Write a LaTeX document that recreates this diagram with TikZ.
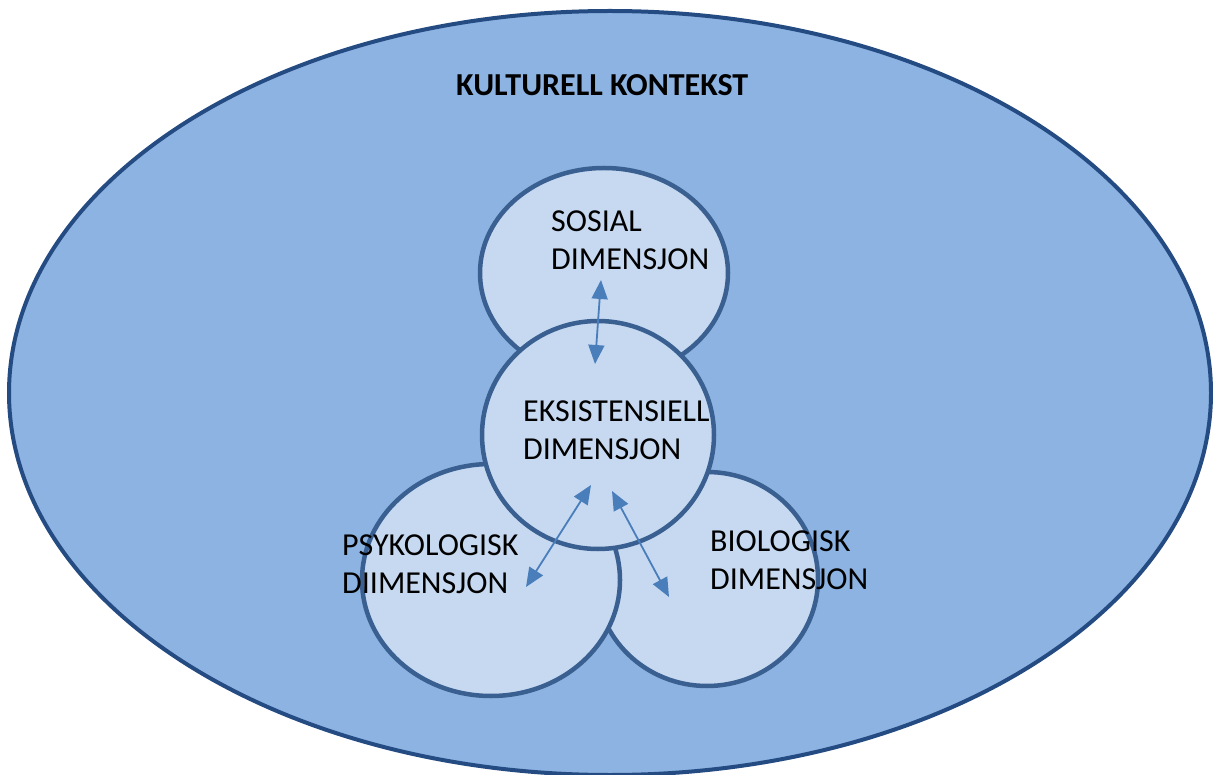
\documentclass[tikz,border=0pt]{standalone}
\usepackage{fontspec}
\setmainfont{Carlito}
\usetikzlibrary{arrows.meta}
\definecolor{outerfill}{HTML}{8DB3E2}
\definecolor{outerline}{HTML}{244B82}
\definecolor{innerfill}{HTML}{C6D9F1}
\definecolor{innerline}{HTML}{3A5F91}
\definecolor{arrowcol}{HTML}{4A7EBB}
\tikzset{
  outerell/.style={fill=outerfill, draw=outerline, line width=4pt},
  dimcirc/.style={fill=innerfill, draw=innerline, line width=4.5pt},
  lbl/.style={anchor=base west, align=left, inner sep=0pt, font=\fontsize{32}{38}\selectfont},
  title/.style={anchor=base west, inner sep=0pt, font=\fontsize{32}{38}\selectfont\bfseries},
  link/.style={draw=arrowcol, line width=1.8pt, {Triangle[length=19pt,width=16pt]}-{Triangle[length=19pt,width=16pt]}}
}
\begin{document}
\begin{tikzpicture}[x=1pt,y=-1pt]
\useasboundingbox (0,0) rectangle (1213,775);
\draw[outerell] (610,393) ellipse [x radius=601, y radius=382];
\node[title] (kontekst) at (456,96) {KULTURELL KONTEKST};
% circles
\draw[dimcirc] (604,273) ellipse [x radius=124, y radius=105];
\draw[dimcirc] (707,579) ellipse [x radius=111, y radius=107];
\draw[dimcirc] (491,580) ellipse [x radius=129, y radius=116];
\draw[dimcirc] (598,435) ellipse [x radius=116, y radius=114];
% labels (anchor = baseline of the last line)
\node[lbl] (sosial) at (551,270) {SOSIAL\\DIMENSJON};
\node[lbl] (eksist) at (523,459) {EKSISTENSIELL\\DIMENSJON};
\node[lbl] (psyk) at (342,593) {PSYKOLOGISK\\DIIMENSJON};
\node[lbl] (bio) at (710,589) {BIOLOGISK\\DIMENSJON};
% arrow endpoints
\coordinate (s1) at (601,280);
\coordinate (s2) at (595,364);
\coordinate (e1) at (591,485);
\coordinate (p1) at (526,587);
\coordinate (e2) at (612,491);
\coordinate (b1) at (669,597);
\draw[link] (s1) -- (s2);
\draw[link] (e1) -- (p1);
\draw[link] (e2) -- (b1);
\end{tikzpicture}
\end{document}
